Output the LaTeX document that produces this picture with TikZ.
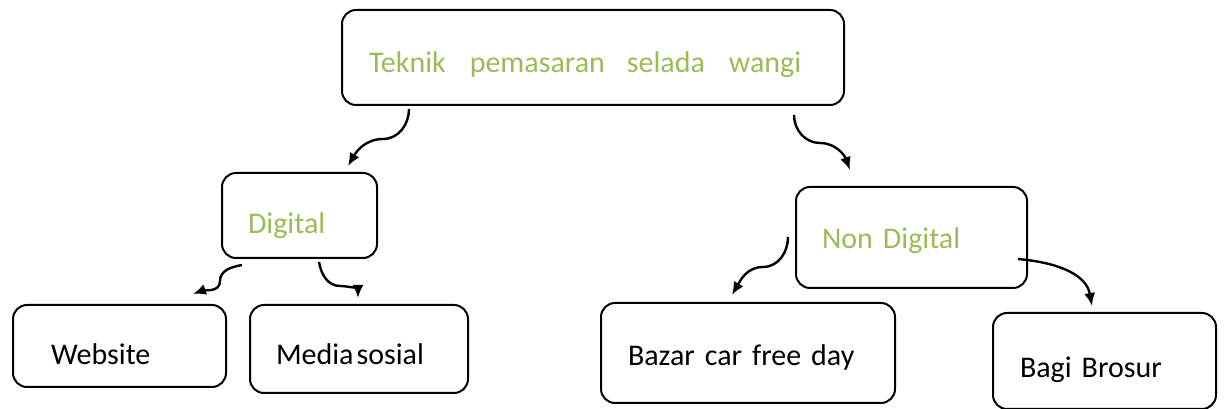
\documentclass[tikz,border=0pt]{standalone}
\usepackage{fontspec}
\setmainfont{Carlito}
\usepackage{tikz}
\usetikzlibrary{arrows.meta}
\definecolor{leafgreen}{HTML}{9BBB59}

\begin{document}
\begin{tikzpicture}[x=1pt,y=1pt,
    box/.style = {draw, line width=2pt, rounded corners=14pt, anchor=north west,
        align=left, inner ysep=0pt, text depth=0pt,
        font=\fontsize{30}{36}\selectfont},
    greenbox/.style = {box, text=leafgreen},
    link/.style = {draw, line width=2.4pt, -{Latex[length=13pt,width=11pt]}}]
    \useasboundingbox (0,0) rectangle (1224,409);
    \node [greenbox, minimum width=502pt, minimum height=95pt, inner xsep=27pt,
        text width=448pt, text height=31pt] (teknik) at (341,400)
        {Teknik\hspace{24pt}pemasaran\hspace{22pt}selada\hspace{24pt}wangi};
    \node [greenbox, minimum width=155pt, minimum height=85pt, inner xsep=26pt,
        text width=103pt, text height=37pt] (digital) at (221,237) {Digital};
    \node [greenbox, minimum width=231pt, minimum height=101pt, inner xsep=26pt,
        text width=179pt, text height=23pt] (nondigital) at (795,223) {Non Digital};
    \node [box, minimum width=213pt, minimum height=82pt, inner xsep=38pt,
        text width=137pt, text height=38pt] (website) at (12,105) {Website};
    \node [box, minimum width=218pt, minimum height=88pt, inner xsep=26pt,
        text width=166pt, text height=32pt] (medsos) at (249,105) {Media\hspace{3pt}sosial};
    \node [box, minimum width=294pt, minimum height=100pt, inner xsep=27pt,
        text width=240pt, text height=26pt] (bazar) at (600,107) {Bazar car free day};
    \node [box, minimum width=223pt, minimum height=96pt, inner xsep=27pt,
        text width=169pt, text height=34pt] (brosur) at (992,97) {Bagi Brosur};

    % cabang utama
    \draw [link] ([shift={(68,-3)}]teknik.south west) to[out=-90,in=0] ++(-26,-30)
        to[out=180,in=60] ([shift={(127,6)}]digital.north west);
    \draw [link] ([shift={(453,-9)}]teknik.south west) to[out=-90,in=180] ++(26,-28)
        to[out=0,in=110] ([shift={(55,16)}]nondigital.north west);
    % digital
    \draw [link] ([shift={(21,-6)}]digital.south west) to[out=190,in=90] ++(-22,-16)
        to[out=-90,in=20] ([shift={(181,10)}]website.north west);
    \draw [link] ([shift={(98,-3)}]digital.south west) to[out=-80,in=180] ++(21,-24)
        to[out=0,in=90] ([shift={(109,6)}]medsos.north west);
    % non digital
    \draw [link] ([shift={(-7,52)}]nondigital.south west) to[out=-90,in=0] ++(-25,-30)
        to[out=180,in=60] ([shift={(132,7)}]bazar.north west);
    \draw [link] ([shift={(223,30)}]nondigital.south west) to[out=-5,in=100]
        ([shift={(100,6)}]brosur.north west);
\end{tikzpicture}
\end{document}
